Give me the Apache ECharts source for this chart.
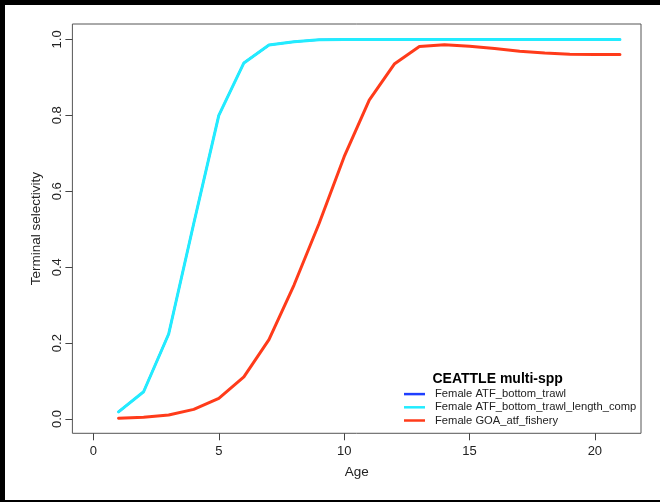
<!DOCTYPE html>
<html>
<head>
<meta charset="utf-8">
<script src="https://cdn.jsdelivr.net/npm/echarts@6/dist/echarts.min.js"></script>
<style>
html,body{margin:0;padding:0;background:#fff;}
#c{width:660px;height:502px;}
</style>
</head>
<body>
<div id="c"></div>
<script>
var ages = [1,2,3,4,5,6,7,8,9,10,11,12,13,14,15,16,17,18,19,20,21];
var atfBottomTrawl = [0.019,0.072,0.224,0.515,0.800,0.938,0.985,0.994,0.999,1,1,1,1,1,1,1,1,1,1,1,1];
var atfBottomTrawlLengthComp = [0.019,0.072,0.224,0.515,0.800,0.938,0.985,0.994,0.999,1,1,1,1,1,1,1,1,1,1,1,1];
var goaAtfFishery = [0.002,0.0045,0.0105,0.0255,0.0545,0.111,0.209,0.353,0.515,0.691,0.840,0.935,0.981,0.986,0.982,0.976,0.969,0.964,0.961,0.960,0.960];
var xTicks = [0,5,10,15,20];
var yTicks = [0,0.2,0.4,0.6,0.8,1.0];
var seriesNames = ['Female ATF_bottom_trawl','Female ATF_bottom_trawl_length_comp','Female GOA_atf_fishery'];
var seriesColors = ['#1f3fff','#22ecff','#ff3b1a'];
var legendTitle = 'CEATTLE multi-spp';

function pairs(vals){ return ages.map(function(a,i){ return [a, vals[i]]; }); }

var font = '"Liberation Sans", Arial, Helvetica, sans-serif';
var chart = echarts.init(document.getElementById('c'), null, {renderer:'canvas'});
var allVals = [atfBottomTrawl, atfBottomTrawlLengthComp, goaAtfFishery];
var lineWidths = [2, 3, 3];
chart.setOption({
  animation: false,
  backgroundColor: '#fff',
  grid: {left: 72.4, top: 24, width: 568.6, height: 409.3, show: true, borderColor: '#555', borderWidth: 1, backgroundColor: 'transparent', containLabel: false},
  title: {text: legendTitle, left: 432.5, top: 372, padding: 0, textStyle: {fontFamily: font, fontSize: 14, fontWeight: 'bold', color: '#000'}},
  legend: {
    orient: 'vertical', left: 404, top: 387.6, padding: 0,
    itemWidth: 21, itemHeight: 2.5, itemGap: 0.2, icon: 'rect',
    data: seriesNames,
    textStyle: {fontFamily: font, fontSize: 11.2, lineHeight: 12, color: '#222', padding: [1, 0, 0, 5]}
  },
  xAxis: {
    type: 'value', min: -0.84, max: 21.84,
    name: 'Age', nameLocation: 'middle', nameGap: 32,
    nameTextStyle: {fontFamily: font, fontSize: 13.5, color: '#222'},
    axisLine: {show: false, onZero: false},
    axisTick: {show: true, length: 7, inside: false, customValues: xTicks, lineStyle: {color: '#444'}},
    axisLabel: {customValues: xTicks, margin: 12, fontFamily: font, fontSize: 13, color: '#222'},
    splitLine: {show: false}
  },
  yAxis: {
    type: 'value', min: -0.0375, max: 1.0405,
    name: 'Terminal selectivity', nameLocation: 'middle', nameGap: 28, nameRotate: 90,
    nameTextStyle: {fontFamily: font, fontSize: 13.5, color: '#222'},
    axisLine: {show: false, onZero: false},
    axisTick: {show: true, length: 7, inside: false, customValues: yTicks, lineStyle: {color: '#444'}},
    axisLabel: {customValues: yTicks, rotate: 90, margin: 8, fontFamily: font, fontSize: 13, color: '#222',
      formatter: function(v){ return v.toFixed(1); }},
    splitLine: {show: false}
  },
  graphic: [
    {type: 'rect', shape: {x: 0, y: 0, width: 660, height: 5}, style: {fill: '#000'}, silent: true},
    {type: 'rect', shape: {x: 0, y: 0, width: 5, height: 502}, style: {fill: '#000'}, silent: true},
    {type: 'rect', shape: {x: 0, y: 500, width: 660, height: 2}, style: {fill: '#000'}, silent: true}
  ],
  series: seriesNames.map(function(n, i){
    return {
      name: n, type: 'line', data: pairs(allVals[i]), symbol: 'none', smooth: false,
      color: seriesColors[i],
      lineStyle: {width: lineWidths[i], color: seriesColors[i], cap: 'round', join: 'round'},
      z: 2 + i
    };
  })
});
</script>
</body>
</html>
